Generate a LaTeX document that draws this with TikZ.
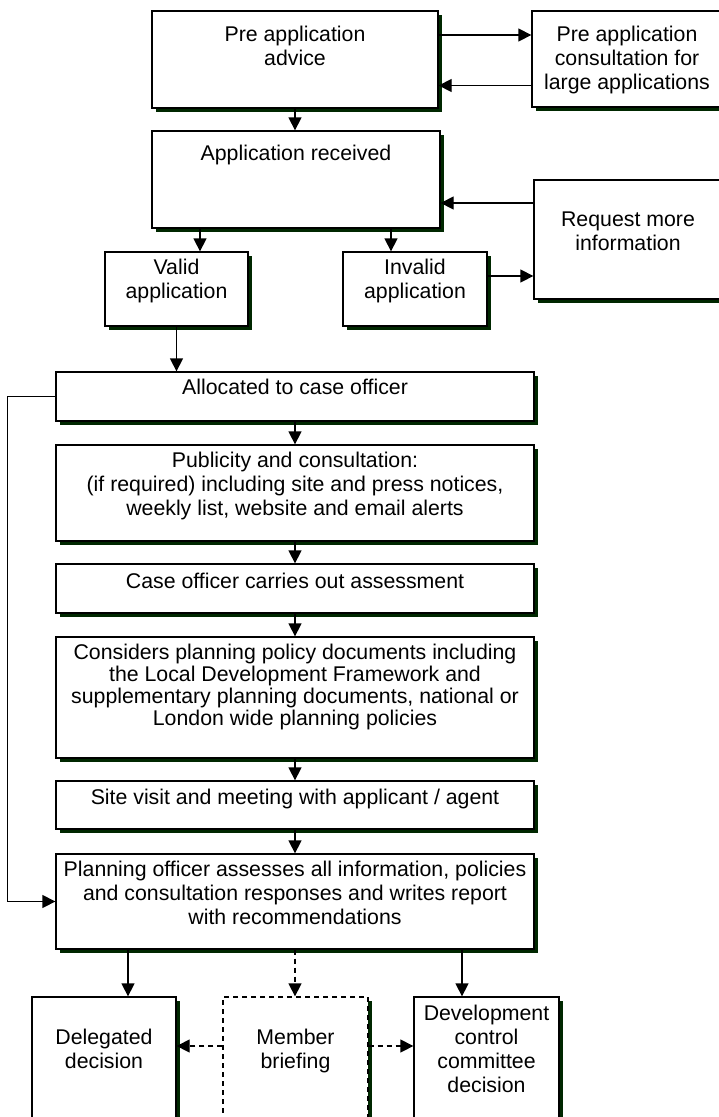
\documentclass[tikz,border=0pt]{standalone}
\usepackage{fontspec}
\setmainfont{Liberation Sans}
\usetikzlibrary{arrows.meta,shadows}
\definecolor{shade}{RGB}{0,40,0}

\begin{document}
\begin{tikzpicture}[x=1pt,y=-1pt,
  box/.style={draw,line width=1.3pt,fill=white,inner sep=0pt,
    drop shadow={shadow xshift=4pt,shadow yshift=-4pt,fill=shade,opacity=1}},
  txt/.style={anchor=north,align=center,inner sep=0pt,yshift=-8pt,
    font=\fontsize{21.3}{24}\selectfont},
  arr/.style={-{Triangle[length=13pt,width=13pt]},line width=1.3pt},
  dsh/.style={dash pattern=on 5pt off 4pt}]
\useasboundingbox (0,0) rectangle (718,1117);
\node[box,minimum width=286pt,minimum height=97pt,label={[txt,yshift=-8pt]north:Pre application\\advice}] (n0) at (295,59.5) {};
\node[box,minimum width=190pt,minimum height=96pt,label={[txt,yshift=-8pt]north:Pre application\\consultation for\\large applications}] (n1) at (627,59) {};
\node[box,minimum width=288pt,minimum height=97pt,label={[txt,yshift=-7pt]north:Application received}] (n2) at (296,179.5) {};
\node[box,minimum width=188pt,minimum height=119pt,label={[txt,yshift=-24pt]north:Request more\\information}] (n3) at (628,239.5) {};
\node[box,minimum width=143pt,minimum height=74pt,label={[txt]north:Valid\\application}] (n4) at (176.5,289) {};
\node[box,minimum width=144pt,minimum height=74pt,label={[txt]north:Invalid\\application}] (n5) at (415,289) {};
\node[box,minimum width=478pt,minimum height=49pt,label={[txt]north:Allocated to case officer}] (n6) at (295,396.5) {};
\node[box,minimum width=478pt,minimum height=96pt,label={[txt]north:Publicity and consultation:\\(if required) including site and press notices,\\weekly list, website and email alerts}] (n7) at (295,493) {};
\node[box,minimum width=478pt,minimum height=49pt,label={[txt,yshift=-2pt]north:Case officer carries out assessment}] (n8) at (295,588.5) {};
\node[box,minimum width=478pt,minimum height=121pt,label={[txt]north:Considers planning policy documents including\\[-2pt]the Local Development Framework and\\[-2pt]supplementary planning documents, national or\\[-2pt]London wide planning policies}] (n9) at (295,697.5) {};
\node[box,minimum width=478pt,minimum height=48pt,label={[txt,yshift=-1pt]north:Site visit and meeting with applicant / agent}] (n10) at (295,805) {};
\node[box,minimum width=478pt,minimum height=95pt,label={[txt]north:Planning officer assesses all information, policies\\and consultation responses and writes report\\with recommendations}] (n11) at (295,901.5) {};
\node[box,minimum width=144pt,minimum height=130pt,label={[txt,yshift=-25pt]north:Delegated\\decision}] (n12) at (104,1062) {};
\node[box,dsh,minimum width=145pt,minimum height=130pt,label={[txt,yshift=-25pt]north:Member\\briefing}] (n13) at (295.5,1062) {};
\node[box,minimum width=145pt,minimum height=130pt,label={[txt,yshift=-1pt]north:Development\\control\\committee\\decision}] (n14) at (486.5,1062) {};
\draw[arr] ([yshift=24.5pt]n0.east) -- ([yshift=24.5pt]n0.east -| n1.west);
\draw[arr] ([yshift=-26.5pt]n1.west) -- ([yshift=-26.5pt]n1.west -| n0.east);
\draw[arr] (n0.south) -- (n0.south |- n2.north);
\draw[arr] ([yshift=36.5pt]n3.west) -- ([yshift=36.5pt]n3.west -| n2.east);
\draw[arr] ([xshift=-96pt]n2.south) -- ([xshift=-96pt]n2.south |- n4.north);
\draw[arr] ([xshift=95pt]n2.south) -- ([xshift=95pt]n2.south |- n5.north);
\draw[arr] ([yshift=13pt]n5.east) -- ([yshift=13pt]n5.east -| n3.west);
\draw[arr] (n4.south) -- (n4.south |- n6.north);
\draw[arr] (n6.west) -- ++(-48,0) |- (n11.west);
\draw[arr] (n6.south) -- (n7.north);
\draw[arr] (n7.south) -- (n8.north);
\draw[arr] (n8.south) -- (n9.north);
\draw[arr] (n9.south) -- (n10.north);
\draw[arr] (n10.south) -- (n11.north);
\draw[arr] ([xshift=-167pt]n11.south) -- ([xshift=-167pt]n11.south |- n12.north);
\draw[arr,dsh] (n11.south) -- (n11.south |- n13.north);
\draw[arr] ([xshift=167pt]n11.south) -- ([xshift=167pt]n11.south |- n14.north);
\draw[arr,dsh] ([yshift=16pt]n13.west) -- ([yshift=16pt]n13.west -| n12.east);
\draw[arr,dsh] ([yshift=16pt]n13.east) -- ([yshift=16pt]n13.east -| n14.west);
\end{tikzpicture}
\end{document}
